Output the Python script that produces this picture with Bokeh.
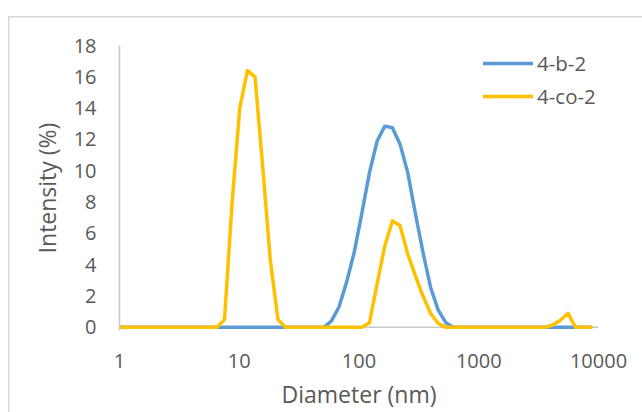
from bokeh.plotting import figure
from bokeh.models import (FixedTicker, PrintfTickFormatter, Span,
                          Legend, LegendItem, Range1d, ColumnDataSource)
from bokeh.embed import file_html
from bokeh.resources import INLINE

# Diameter bins (nm)
diameter = [0.9649, 1.117, 1.294, 1.499, 1.736, 2.010, 2.328, 2.696, 3.122, 3.615,
            4.187, 4.849, 5.615, 6.503, 7.531, 8.721, 10.10, 11.70, 13.54, 15.69,
            18.17, 21.04, 24.36, 28.21, 32.67, 37.84, 43.82, 50.75, 58.77, 68.06,
            78.82, 91.28, 105.7, 122.4, 141.8, 164.2, 190.1, 220.2, 255.0, 295.3,
            342.0, 396.1, 458.7, 531.2, 615.1, 712.4, 825.0, 955.4, 1106, 1281,
            1484, 1718, 1990, 2305, 2669, 3091, 3580, 4145, 4801, 5560,
            6439, 7456, 8635]

# Intensity (%) for series 4-b-2
b2 = [0, 0, 0, 0, 0, 0, 0, 0, 0, 0,
      0, 0, 0, 0, 0, 0, 0, 0, 0, 0,
      0, 0, 0, 0, 0, 0, 0, 0, 0.4, 1.3,
      2.9, 4.8, 7.3, 9.9, 11.9, 12.85, 12.75, 11.7, 9.9, 7.3,
      4.8, 2.55, 1.1, 0.3, 0, 0, 0, 0, 0, 0,
      0, 0, 0, 0, 0, 0, 0, 0, 0, 0,
      0, 0, 0]

# Intensity (%) for series 4-co-2
co2 = [0, 0, 0, 0, 0, 0, 0, 0, 0, 0,
       0, 0, 0, 0, 0.5, 8.0, 14.0, 16.4, 16.0, 10.3,
       4.3, 0.5, 0, 0, 0, 0, 0, 0, 0, 0,
       0, 0, 0, 0.3, 2.8, 5.2, 6.8, 6.5, 4.7, 3.3,
       2.0, 0.9, 0.25, 0, 0, 0, 0, 0, 0, 0,
       0, 0, 0, 0, 0, 0, 0, 0.15, 0.45, 0.9,
       0, 0, 0]

series_names = ["4-b-2", "4-co-2"]
series_colors = ["#5B9BD5", "#FFC000"]
x_ticks = [1, 10, 100, 1000, 10000]
y_ticks = [0, 2, 4, 6, 8, 10, 12, 14, 16, 18]
x_title = "Diameter (nm)"
y_title = "Intensity (%)"

FONT = "Open Sans"
TXT = "#595959"
GRID = "#D9D9D9"

p = figure(width=634, height=404, x_axis_type="log",
           x_range=Range1d(1, 10000), y_range=Range1d(-0.2, 18),
           output_backend="svg", toolbar_location=None,
           min_border_left=111, min_border_right=44,
           min_border_top=37, min_border_bottom=82)
p.styles = {
    "position": "absolute", "left": "8px", "top": "8px",
    "background": ("linear-gradient(%s,%s) 0px 8px / 100%% 1.5px no-repeat, "
                   "linear-gradient(%s,%s) 0px 8px / 1.5px 100%% no-repeat, white")
                  % (GRID, GRID, GRID, GRID),
}
p.outline_line_color = None
p.xgrid.visible = False
p.ygrid.visible = False
p.background_fill_alpha = 0
p.border_fill_alpha = 0

# zero baseline (horizontal axis line)
base = Span(location=0, dimension="width", line_color="#C8C8C8", line_width=1.5,
            level="underlay")
p.add_layout(base)

src = ColumnDataSource(dict(d=diameter, b2=b2, co2=co2))
r1 = p.line("d", "b2", source=src, line_color=series_colors[0], line_width=3.5,
            line_join="round", line_cap="round")
r2 = p.line("d", "co2", source=src, line_color=series_colors[1], line_width=3.5,
            line_join="round", line_cap="round")

for ax in (p.xaxis[0], p.yaxis[0]):
    ax.major_tick_line_color = None
    ax.minor_tick_line_color = None
    ax.major_tick_out = 0
    ax.major_tick_in = 0
    ax.minor_tick_out = 0
    ax.minor_tick_in = 0
    ax.major_label_text_font = FONT
    ax.major_label_text_font_size = "20px"
    ax.major_label_text_color = TXT
    ax.axis_label_text_font = FONT
    ax.axis_label_text_font_size = "23px"
    ax.axis_label_text_font_style = "normal"
    ax.axis_label_text_color = TXT

p.xaxis.ticker = FixedTicker(ticks=x_ticks, minor_ticks=[])
p.xaxis.formatter = PrintfTickFormatter(format="%d")
p.xaxis.axis_line_color = None
p.xaxis.major_label_standoff = 23
p.xaxis.axis_label = x_title
p.xaxis.axis_label_standoff = 7

p.yaxis.ticker = FixedTicker(ticks=y_ticks, minor_ticks=[])
p.yaxis.axis_line_color = "#C8C8C8"
p.yaxis.axis_line_width = 1.5
p.yaxis.major_label_standoff = 23
p.yaxis.axis_label = y_title
p.yaxis.axis_label_standoff = 8

legend = Legend(items=[LegendItem(label=series_names[0], renderers=[r1]),
                       LegendItem(label=series_names[1], renderers=[r2])],
                location=(364, 220), border_line_color=None,
                background_fill_alpha=0, padding=0, margin=0, spacing=5,
                glyph_width=50, glyph_height=28, label_height=28,
                label_standoff=4, label_text_font=FONT,
                label_text_font_size="20.5px", label_text_color=TXT)
p.add_layout(legend)

open("out.html", "w").write(file_html(p, INLINE))
